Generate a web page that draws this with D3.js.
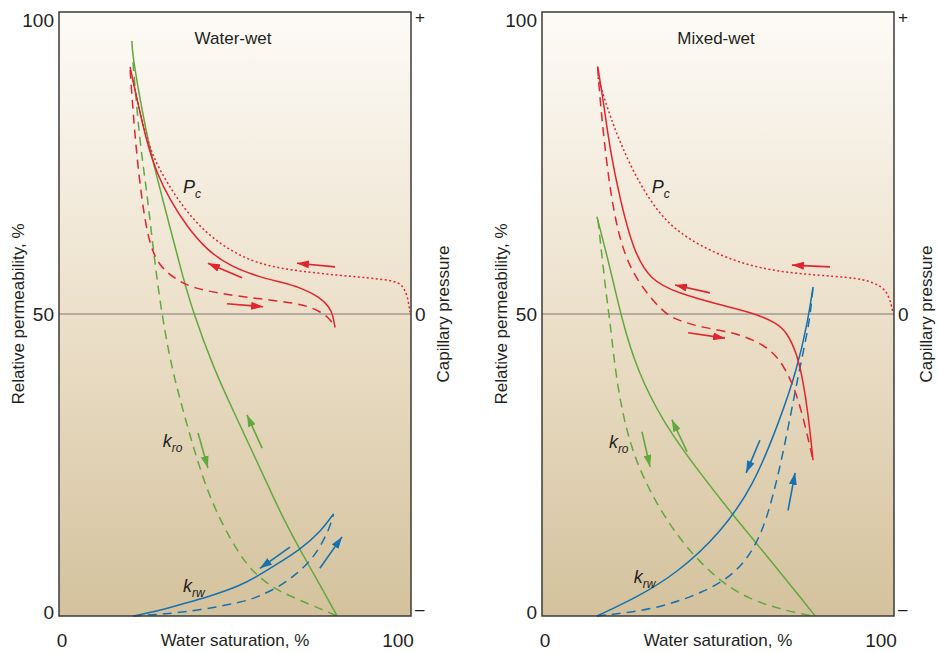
<!DOCTYPE html>
<html><head><meta charset="utf-8">
<script src="https://cdn.jsdelivr.net/npm/d3@7"></script>
<style>
html,body{margin:0;padding:0;background:#fff;}
text{font-family:"Liberation Sans Narrow","Liberation Sans",Arial,sans-serif;fill:#231f20;}
</style></head><body>
<svg id="chart" width="939" height="653"></svg>
<script>
// ---------- DATA (water saturation %, value on 0-100 scale; Pc plotted with 50 = zero) ----------
const panelTitles = ["Water-wet", "Mixed-wet"];
const yTickLabels = ["0", "50", "100"];
const xTickLabels = ["0", "100"];
const pcTickLabels = ["–", "0", "+"];
const xAxisTitle = "Water saturation, %";
const yAxisTitle = "Relative permeability, %";
const pcAxisTitle = "Capillary pressure";

// Water-wet
const wwKroSolid = [[20.7,95.2],[21.0,92.1],[25.0,79.3],[27.8,72.7],[31.5,64.4],[35.2,56.1],[38.1,50.3],[43.8,41.2],[49.4,34.1],[55.1,27.0],[60.8,19.8],[63.6,16.3],[68.5,10.9],[74.0,5.3],[79.0,0]];
const wwKroDashed = [[21.0,91.7],[21.6,87.6],[23.0,78.3],[25.0,70.0],[26.7,61.1],[28.7,51.8],[31.5,42.4],[34.4,35.8],[38.1,28.0],[42.0,20.9],[46.5,15.0],[51.4,10.1],[55.1,7.3],[60.8,4.6],[67.6,2.8],[75.0,1.0],[79.0,0]];
const wwKrwSolid = [[21.0,0],[28.0,0.8],[35.2,2.0],[43.0,3.3],[51.4,5.0],[57.0,6.8],[62.0,8.6],[68.5,11.0],[74.1,13.8],[78.0,16.9]];
const wwKrwDashed = [[21.0,0],[30.0,0.3],[40.1,1.0],[51.4,2.2],[56.3,3.1],[62.8,4.9],[67.6,7.0],[71.9,9.4],[75.0,12.3],[77.0,14.8],[78.0,16.9]];
const wwPcSolid = [[20.2,90.9],[22.2,85.4],[25.0,78.3],[27.8,73.3],[31.5,68.9],[36.4,64.4],[42.0,60.6],[48.6,57.9],[57.1,56.1],[62.8,55.3],[68.5,54.4],[74.1,52.8],[76.8,51.2],[77.9,49.6],[78.4,47.8]];
const wwPcDashed = [[20.2,90.4],[21.0,83.8],[22.2,75.5],[23.9,67.2],[25.9,61.1],[28.7,57.8],[33.5,55.6],[38.1,54.3],[45.7,53.4],[55.1,52.6],[68.5,51.8],[74.1,50.5],[77.0,49.2],[78.4,47.8]];
const wwPcDotted = [[21.0,88.7],[23.9,81.0],[26.7,76.0],[30.7,71.7],[36.4,66.7],[43.8,62.3],[53.4,58.9],[62.8,57.5],[74.1,56.7],[85.5,56.1],[94.9,55.6],[97.7,54.8],[99.1,52.8],[99.7,50.3]];
const wwArrows = [
  {c:"red", from:[78.4,57.8], to:[67.6,58.4]},
  {c:"red", from:[52.0,56.0], to:[42.3,58.4]},
  {c:"red", from:[47.7,51.7], to:[58.0,51.2]},
  {c:"green", from:[39.5,30.3], to:[42.3,24.5]},
  {c:"green", from:[57.7,27.8], to:[53.4,33.3]},
  {c:"blue", from:[65.6,11.4], to:[57.1,7.9]},
  {c:"blue", from:[74.1,7.9], to:[80.4,13.1]}
];

// Mixed-wet
const mwKroSolid = [[15.6,66.1],[19.3,57.8],[22.7,49.0],[27.0,40.7],[34.4,32.0],[45.7,23.0],[55.4,15.9],[64.8,9.3],[74.1,2.6],[77.6,0]];
const mwKroDashed = [[15.9,65.6],[18.4,52.3],[19.3,49.0],[21.3,37.9],[25.0,28.0],[30.7,20.4],[38.4,13.1],[47.7,7.1],[58.2,2.6],[74.1,0.2],[77.6,0]];
const mwKrwSolid = [[15.6,0],[27.0,3.1],[38.4,7.1],[50.6,13.7],[60.0,21.4],[67.6,32.5],[72.4,40.7],[75.6,49.0],[77.0,54.5]];
const mwKrwDashed = [[15.6,0],[31.5,1.0],[45.7,3.8],[55.4,7.1],[61.9,12.6],[65.6,19.7],[68.5,27.0],[71.3,35.3],[74.1,43.5],[76.1,49.0],[77.0,54.5]];
const mwPcSolid = [[15.8,91.0],[17.4,85.4],[19.3,77.2],[22.2,68.9],[25.9,60.6],[30.7,55.6],[38.4,53.5],[50.6,51.5],[60.0,50.2],[66.7,48.5],[69.6,46.9],[72.4,43.5],[74.1,39.1],[75.6,33.6],[77.0,25.8]];
const mwPcDashed = [[15.8,90.8],[16.5,85.4],[18.4,74.4],[21.3,63.4],[25.9,56.1],[34.4,50.2],[38.4,49.0],[45.7,47.7],[55.4,46.9],[64.8,44.5],[69.6,40.7],[73.3,35.3],[77.0,25.8]];
const mwPcDotted = [[15.9,89.2],[19.3,82.6],[25.0,74.4],[32.7,66.7],[41.2,62.3],[55.4,58.4],[69.6,56.7],[88.4,56.1],[94.0,55.3],[98.0,54.0],[99.4,51.2],[99.7,50.2]];
const mwArrows = [
  {c:"red", from:[81.8,57.8], to:[71.0,58.1]},
  {c:"red", from:[47.7,53.5], to:[37.8,54.8]},
  {c:"red", from:[41.5,46.9], to:[52.0,46.0]},
  {c:"green", from:[28.4,30.5], to:[30.7,24.7]},
  {c:"green", from:[41.2,27.2], to:[36.9,32.5]},
  {c:"blue", from:[61.9,29.1], to:[58.0,23.7]},
  {c:"blue", from:[69.9,17.5], to:[71.9,23.7]}
];

const panels = [
  {title:panelTitles[0], left:59, right:411, kroS:wwKroSolid, kroD:wwKroDashed, krwS:wwKrwSolid, krwD:wwKrwDashed,
   pcS:wwPcSolid, pcD:wwPcDashed, pcDot:wwPcDotted, arrows:wwArrows, pcLab:[35.2,70.0], kroLab:[29.5,28.0], krwLab:[35.2,4.0]},
  {title:panelTitles[1], left:542, right:894, kroS:mwKroSolid, kroD:mwKroDashed, krwS:mwKrwSolid, krwD:mwKrwDashed,
   pcS:mwPcSolid, pcD:mwPcDashed, pcDot:mwPcDotted, arrows:mwArrows, pcLab:[31.2,70.0], kroLab:[19.0,27.8], krwLab:[26.1,5.5]}
];

const colors = {red:"#e1252f", green:"#62a83d", blue:"#1671ae"};
const plotTop = 12, plotBottom = 616;

const svg = d3.select("#chart");
const defs = svg.append("defs");
const grad = defs.append("linearGradient").attr("id","bg").attr("x1",0).attr("y1",0).attr("x2",0).attr("y2",1);
grad.append("stop").attr("offset","0%").attr("stop-color","#fdfbf7");
grad.append("stop").attr("offset","50%").attr("stop-color","#ece0ca");
grad.append("stop").attr("offset","100%").attr("stop-color","#d4c29d");
Object.entries(colors).forEach(([k,v])=>{
  defs.append("marker").attr("id","ah-"+k).attr("viewBox","0 0 12 8").attr("refX",12).attr("refY",4)
    .attr("markerWidth",12).attr("markerHeight",8).attr("markerUnits","userSpaceOnUse").attr("orient","auto")
    .append("path").attr("d","M0,0L12,4L0,8Z").attr("fill",v);
});

panels.forEach(p=>{
  const x = d3.scaleLinear().domain([0,100]).range([p.left,p.right]);
  const y = d3.scaleLinear().domain([0,100]).range([plotBottom,plotTop]);
  const g = svg.append("g");
  g.append("rect").attr("x",x(0)).attr("y",y(100)).attr("width",x(100)-x(0)).attr("height",y(0)-y(100)).attr("fill","url(#bg)");
  g.append("line").attr("x1",x(0)).attr("x2",x(100)).attr("y1",y(50)).attr("y2",y(50)).attr("stroke","#7d7a74").attr("stroke-width",1.2);

  const line = d3.line().x(d=>x(d[0])).y(d=>y(d[1])).curve(d3.curveBasis);
  const draw = (data,col,dash)=>g.append("path").attr("d",line(data)).attr("fill","none")
      .attr("stroke",colors[col]).attr("stroke-width",1.5).attr("stroke-dasharray",dash||null);
  draw(p.kroD,"green","9,6");
  draw(p.kroS,"green");
  draw(p.krwD,"blue","9,6");
  draw(p.krwS,"blue");
  draw(p.pcDot,"red","2,2.5");
  draw(p.pcD,"red","9,6");
  draw(p.pcS,"red");

  p.arrows.forEach(a=>{
    g.append("line").attr("x1",x(a.from[0])).attr("y1",y(a.from[1])).attr("x2",x(a.to[0])).attr("y2",y(a.to[1]))
      .attr("stroke",colors[a.c]).attr("stroke-width",1.6).attr("marker-end","url(#ah-"+a.c+")");
  });

  // frame
  g.append("rect").attr("x",x(0)).attr("y",y(100)).attr("width",x(100)-x(0)).attr("height",y(0)-y(100))
    .attr("fill","none").attr("stroke","#3d3b39").attr("stroke-width",1.5);

  // y tick labels
  const yl = [[0,612],[50,314],[100,20]];
  yl.forEach((t,i)=>g.append("text").attr("x",x(0)-5).attr("y",t[1]).attr("dy","0.35em").attr("text-anchor","end")
    .attr("font-size",19).text(yTickLabels[i]));
  // Pc tick labels
  const pl = [609,314,17];
  pl.forEach((py,i)=>g.append("text").attr("x",x(100)+4).attr("y",py).attr("dy","0.35em").attr("text-anchor","start")
    .attr("font-size",i===1?19:17).text(pcTickLabels[i]));
  // x tick labels
  g.append("text").attr("x",x(0)+3).attr("y",640).attr("dy","0.35em").attr("text-anchor","middle").attr("font-size",19).text(xTickLabels[0]);
  g.append("text").attr("x",x(100)-13).attr("y",640).attr("dy","0.35em").attr("text-anchor","middle").attr("font-size",19).text(xTickLabels[1]);
  g.append("text").attr("x",(x(0)+x(100))/2).attr("y",640).attr("dy","0.35em").attr("text-anchor","middle").attr("font-size",17).text(xAxisTitle);
  // axis titles
  g.append("text").attr("transform",`translate(${x(0)-41},314) rotate(-90)`).attr("text-anchor","middle").attr("dy","0.35em")
    .attr("font-size",17).text(yAxisTitle);
  g.append("text").attr("transform",`translate(${x(100)+32},314) rotate(-90)`).attr("text-anchor","middle").attr("dy","0.35em")
    .attr("font-size",17).text(pcAxisTitle);
  // panel title
  g.append("text").attr("x",(x(0)+x(100))/2-2).attr("y",38).attr("dy","0.35em").attr("text-anchor","middle").attr("font-size",17).text(p.title);

  // curve labels
  const lab = (pos,main,sub)=>{
    const t = g.append("text").attr("x",x(pos[0])).attr("y",y(pos[1])).attr("font-size",18).attr("font-style","italic");
    t.append("tspan").text(main);
    t.append("tspan").attr("font-size",12).attr("dy",5).text(sub);
  };
  lab(p.pcLab,"P","c");
  lab(p.kroLab,"k","ro");
  lab(p.krwLab,"k","rw");
});
</script></body></html>
